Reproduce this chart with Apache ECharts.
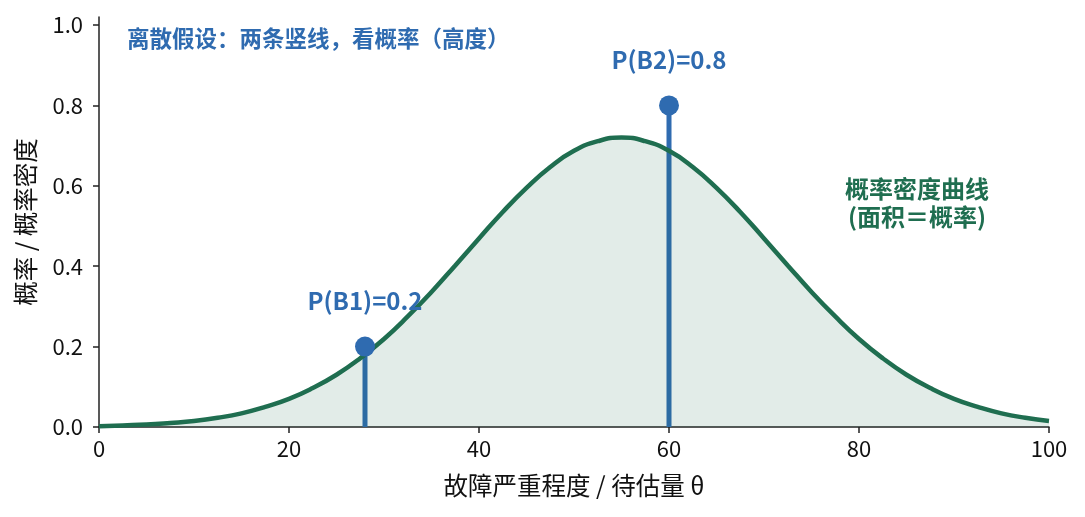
<!DOCTYPE html>
<html>
<head>
<meta charset="utf-8">
<script src="https://cdn.jsdelivr.net/npm/echarts@6/dist/echarts.min.js"></script>
<style>
  html, body { margin: 0; padding: 0; background: #fff; }
  #chart { width: 1085px; height: 517px; }
</style>
</head>
<body>
<div id="chart"></div>
<script>
// 连续密度曲线
const thetaValues = [0, 2.5, 5, 7.5, 10, 12.5, 15, 17.5, 20, 22.5, 25, 27.5, 30, 32.5, 35, 37.5, 40, 42.5, 45, 47.5,
  50, 52.5, 55, 57.5, 60, 62.5, 65, 67.5, 70, 72.5, 75, 77.5, 80, 82.5, 85, 87.5, 90, 92.5, 95, 97.5, 100];
const densityValues = [0.002, 0.004, 0.006, 0.010, 0.015, 0.023, 0.034, 0.050, 0.070, 0.097, 0.130, 0.171,
  0.219, 0.275, 0.336, 0.402, 0.469, 0.535, 0.595, 0.647, 0.687, 0.711, 0.720, 0.711, 0.687, 0.647, 0.595,
  0.535, 0.469, 0.402, 0.336, 0.275, 0.219, 0.171, 0.130, 0.097, 0.070, 0.050, 0.034, 0.023, 0.015];

// 离散假设：两条竖线
const stemTheta = [28, 60];
const stemProb = [0.2, 0.8];
const stemLabels = ['P(B1)=0.2', 'P(B2)=0.8'];

const xTicks = [0, 20, 40, 60, 80, 100];
const yTicks = [0, 0.2, 0.4, 0.6, 0.8, 1.0];

const BLUE = '#2f6bb0';
const GREEN = '#1f6e50';
const FONT = '"Noto Sans CJK SC", "Noto Sans", sans-serif';

const chart = echarts.init(document.getElementById('chart'), null, { renderer: 'canvas' });

const curveData = thetaValues.map((t, i) => [t, densityValues[i]]);
const stemData = stemTheta.map((t, i) => [t, stemProb[i]]);

chart.setOption({
  animation: false,
  grid: { left: 99, right: 36, top: 17, bottom: 90 },
  xAxis: {
    type: 'value',
    min: 0,
    max: 100,
    interval: 20,
    name: '故障严重程度 / 待估量 θ',
    nameLocation: 'middle',
    nameGap: 46,
    nameTextStyle: { fontFamily: FONT, fontSize: 24.5, color: '#111' },
    axisLine: { lineStyle: { color: '#222', width: 1.5 } },
    axisTick: { show: true, length: 6, lineStyle: { color: '#222', width: 1.5 }, customValues: xTicks },
    axisLabel: { fontFamily: FONT, fontSize: 22, color: '#111', margin: 11, customValues: xTicks },
    splitLine: { show: false }
  },
  yAxis: {
    type: 'value',
    min: 0,
    max: 1.02,
    name: '概率 / 概率密度',
    nameLocation: 'middle',
    nameGap: 61,
    nameTextStyle: { fontFamily: FONT, fontSize: 24.5, color: '#111' },
    axisLine: { show: true, lineStyle: { color: '#222', width: 1.5 } },
    axisTick: { show: true, length: 6, lineStyle: { color: '#222', width: 1.5 }, customValues: yTicks },
    axisLabel: {
      fontFamily: FONT, fontSize: 22, color: '#111', margin: 16,
      customValues: yTicks,
      formatter: v => v.toFixed(1)
    },
    splitLine: { show: false }
  },
  series: [
    {
      type: 'bar',
      data: stemData,
      barWidth: 5,
      itemStyle: { color: BLUE },
      z: 2
    },
    {
      type: 'line',
      data: curveData,
      smooth: true,
      showSymbol: false,
      lineStyle: { color: GREEN, width: 4.5 },
      areaStyle: { color: GREEN, opacity: 0.13 },
      z: 3
    },
    {
      type: 'scatter',
      data: stemData,
      symbolSize: 20,
      itemStyle: { color: BLUE, opacity: 1 },
      label: {
        show: true,
        position: 'top',
        distance: 24,
        formatter: p => stemLabels[p.dataIndex],
        fontFamily: FONT,
        fontSize: 24,
        fontWeight: 'bold',
        color: BLUE
      },
      z: 4
    }
  ],
  graphic: [
    {
      type: 'text',
      left: 127,
      top: 27,
      style: {
        text: '离散假设：两条竖线，看概率（高度）',
        fontFamily: FONT,
        fontSize: 22.5,
        fontWeight: 'bold',
        fill: BLUE
      }
    },
    {
      type: 'text',
      x: 917,
      y: 175,
      style: {
        text: '概率密度曲线\n(面积＝概率)',
        fontFamily: FONT,
        fontSize: 24,
        fontWeight: 'bold',
        lineHeight: 28,
        fill: GREEN,
        align: 'center',
        verticalAlign: 'top'
      }
    }
  ]
});
</script>
</body>
</html>
